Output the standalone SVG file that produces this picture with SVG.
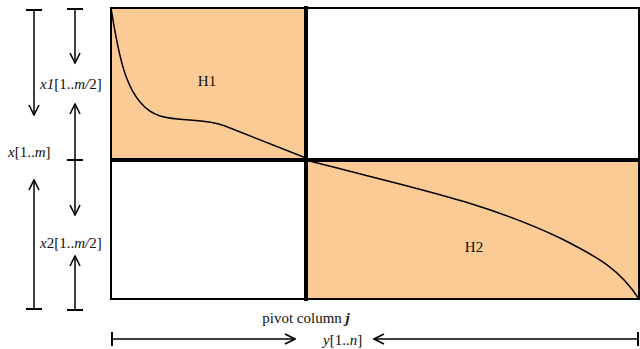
<svg xmlns="http://www.w3.org/2000/svg" width="640" height="349" viewBox="0 0 640 349">
<style>
.t{font-family:"Liberation Serif","Times New Roman",serif;font-size:15px;fill:#111}
.i{font-style:italic}
.b{font-weight:bold;font-style:italic}
.ln{stroke:#000;stroke-width:1.5;fill:none}
.cap{stroke:#000;stroke-width:2;fill:none}
.fill{fill:#FBCB96}
</style>
<defs>
<marker id="ah" viewBox="0 0 12 12" refX="11" refY="6" markerWidth="12" markerHeight="12" markerUnits="userSpaceOnUse" orient="auto">
<polyline points="1,1 11,6 1,11" fill="none" stroke="#000" stroke-width="1.6"/>
</marker>
</defs>
<g id="matrix">
<rect class="fill" x="111" y="8" width="195" height="152"/>
<rect class="fill" x="306" y="160" width="333" height="139"/>
<rect x="111" y="8" width="528" height="291" fill="none" stroke="#000" stroke-width="2"/>
<line x1="110" y1="160" x2="640" y2="160" stroke="#000" stroke-width="4"/>
<line x1="306" y1="6" x2="306" y2="301" stroke="#000" stroke-width="4"/>
</g>
<g id="H1">
<path d="M111,8 C118,50 125,105 160,116 C180,122 205,118 225,126 L306,158" class="ln" stroke-width="2"/>
<text class="t" x="207" y="86" text-anchor="middle">H1</text>
</g>
<g id="H2">
<path d="M306,160 C400,185 480,200 560,238 C600,258 620,270 639,299" class="ln" stroke-width="2"/>
<text class="t" x="474" y="252" text-anchor="middle">H2</text>
</g>
<g id="connectors">
<line class="cap" x1="26" y1="10" x2="42" y2="10"/>
<line class="ln" x1="34" y1="10" x2="34" y2="115" marker-end="url(#ah)"/>
<line class="cap" x1="26" y1="309" x2="42" y2="309"/>
<line class="ln" x1="34" y1="309" x2="34" y2="180" marker-end="url(#ah)"/>
<line class="cap" x1="67" y1="9" x2="83" y2="9"/>
<line class="ln" x1="75" y1="9" x2="75" y2="63" marker-end="url(#ah)"/>
<line class="ln" x1="75" y1="160" x2="75" y2="104" marker-end="url(#ah)"/>
<line class="cap" x1="67" y1="160" x2="83" y2="160"/>
<line class="ln" x1="75" y1="160" x2="75" y2="215" marker-end="url(#ah)"/>
<line class="cap" x1="67" y1="310" x2="83" y2="310"/>
<line class="ln" x1="75" y1="310" x2="75" y2="256" marker-end="url(#ah)"/>
<line class="cap" x1="112" y1="332" x2="112" y2="346"/>
<line class="ln" x1="112" y1="339" x2="295" y2="339" marker-end="url(#ah)"/>
<line class="cap" x1="638" y1="332" x2="638" y2="346"/>
<line class="ln" x1="638" y1="339" x2="374" y2="339" marker-end="url(#ah)"/>
</g>
<g id="labels">
<text class="t" x="8" y="157"><tspan class="i">x</tspan>[1..<tspan class="i">m</tspan>]</text>
<text class="t" x="40" y="89"><tspan class="i">x1</tspan>[1..<tspan class="i">m/</tspan>2]</text>
<text class="t" x="40" y="248"><tspan class="i">x</tspan>2[1..<tspan class="i">m/</tspan>2]</text>
<text class="t" x="306" y="323" text-anchor="middle">pivot column <tspan class="b">j</tspan></text>
<text class="t" x="323" y="345"><tspan class="i">y</tspan>[1..<tspan class="i">n</tspan>]</text>
</g>
</svg>
